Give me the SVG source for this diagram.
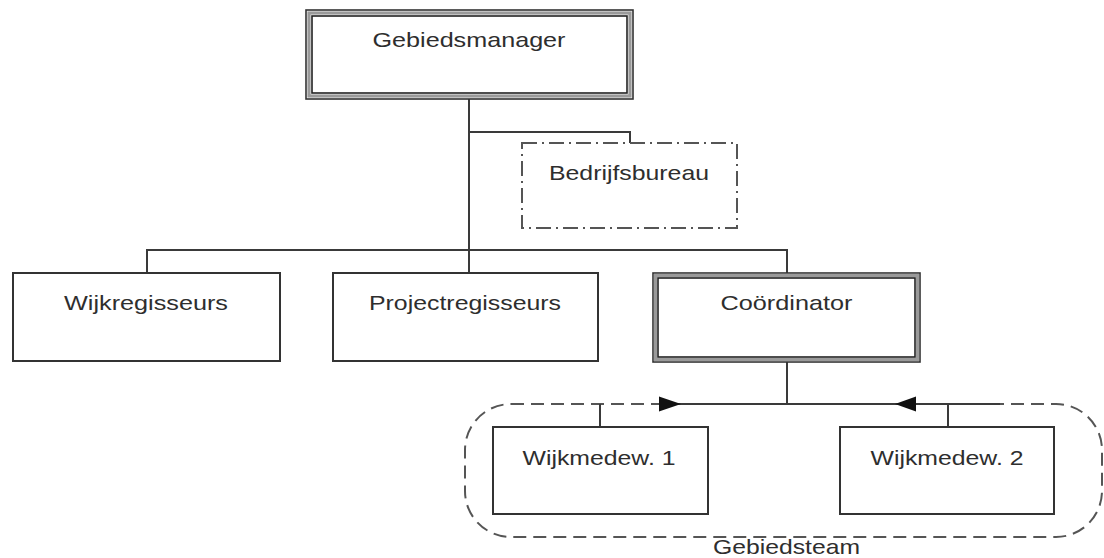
<svg xmlns="http://www.w3.org/2000/svg" width="1104" height="558" viewBox="0 0 1104 558">
  <style>
    .box { fill: #ffffff; stroke: #333333; stroke-width: 2; }
    .dbl-out { fill: #ffffff; stroke: #333333; stroke-width: 1.6; }
    .dbl-mid { fill: none; stroke: #9a9a9a; stroke-width: 3.2; }
    .dbl-in { fill: none; stroke: #222222; stroke-width: 1.6; }
    .dashdot { fill: #ffffff; stroke: #555555; stroke-width: 2; stroke-dasharray: 15 5 2 5; }
    .team { fill: none; stroke: #555555; stroke-width: 2; stroke-dasharray: 13 7; }
    .wire { fill: none; stroke: #3a3a3a; stroke-width: 2; }
    .lbl { font-family: "Liberation Sans", Arial, sans-serif; font-size: 21px; fill: #2e2e2e; text-anchor: middle; }
    .head { fill: #111111; }
  </style>

  <!-- team boundary (dashed rounded rectangle) -->
  <rect class="team" x="465" y="404" width="637" height="133" rx="46" ry="46"/>

  <!-- connectors -->
  <g id="connectors">
    <path class="wire" d="M469 99 V273"/>
    <path class="wire" d="M469 132 H630 V143"/>
    <path class="wire" d="M147 273 V250 H787 V273"/>
    <path class="wire" d="M787 362 V404"/>
    <path class="wire" d="M660 404 H1000"/>
    <path class="wire" d="M600 404 V427"/>
    <path class="wire" d="M948 404 V427"/>
    <polygon class="head" points="659,396.5 681,404 659,411.5"/>
    <polygon class="head" points="916,396.5 895,404 916,411.5"/>
  </g>

  <!-- top manager -->
  <g id="gebiedsmanager">
    <rect class="dbl-out" x="306" y="10" width="327" height="89"/>
    <rect class="dbl-mid" x="309" y="13" width="321" height="83"/>
    <rect class="dbl-in" x="312" y="16" width="315" height="77"/>
    <text class="lbl" x="469" y="47" textLength="193" lengthAdjust="spacingAndGlyphs">Gebiedsmanager</text>
  </g>

  <!-- staff office -->
  <g id="bedrijfsbureau">
    <rect class="dashdot" x="522" y="143" width="215" height="85"/>
    <text class="lbl" x="629" y="180" textLength="160" lengthAdjust="spacingAndGlyphs">Bedrijfsbureau</text>
  </g>

  <g id="wijkregisseurs">
    <rect class="box" x="13" y="273" width="267" height="88"/>
    <text class="lbl" x="146" y="310" textLength="164" lengthAdjust="spacingAndGlyphs">Wijkregisseurs</text>
  </g>

  <g id="projectregisseurs">
    <rect class="box" x="333" y="273" width="265" height="88"/>
    <text class="lbl" x="465" y="310" textLength="192" lengthAdjust="spacingAndGlyphs">Projectregisseurs</text>
  </g>

  <g id="coordinator">
    <rect class="dbl-out" x="653" y="273" width="267" height="89"/>
    <rect class="dbl-mid" x="655.5" y="275.5" width="262" height="84"/>
    <rect class="dbl-in" x="658" y="278" width="257" height="79"/>
    <text class="lbl" x="786.5" y="310" textLength="132" lengthAdjust="spacingAndGlyphs">Coördinator</text>
  </g>

  <g id="wijkmedew1">
    <rect class="box" x="493" y="427" width="215" height="87"/>
    <text class="lbl" x="599" y="465" textLength="153" lengthAdjust="spacingAndGlyphs">Wijkmedew. 1</text>
  </g>

  <g id="wijkmedew2">
    <rect class="box" x="840" y="427" width="214" height="87"/>
    <text class="lbl" x="947" y="465" textLength="153" lengthAdjust="spacingAndGlyphs">Wijkmedew. 2</text>
  </g>

  <g id="gebiedsteam-label">
    <text class="lbl" x="786.5" y="554" textLength="147" lengthAdjust="spacingAndGlyphs">Gebiedsteam</text>
  </g>
</svg>
